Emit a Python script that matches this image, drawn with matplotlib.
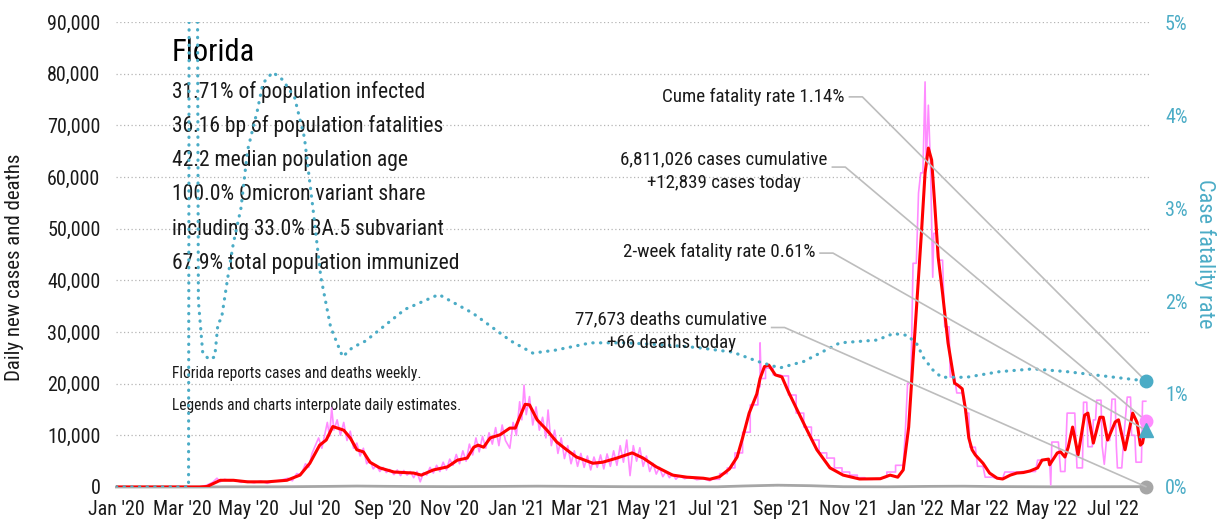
import numpy as np
import pandas as pd
import matplotlib
matplotlib.use("Agg")
import matplotlib.pyplot as plt
from matplotlib.ticker import FuncFormatter

plt.rcParams['font.family'] = ['Roboto Condensed', 'DejaVu Sans']

START = pd.Timestamp("2020-01-01")

# x values are days since 2020-01-01
# 7-day average of new cases (red)
avg_days = [0, 76, 83, 95, 107, 120, 138, 156, 168, 177, 186, 192, 198, 208, 214, 220, 226,
            232, 241, 254, 272, 279, 290, 303, 312, 321, 327, 331, 336, 342, 351, 360, 365,
            369, 374, 378, 385, 394, 403, 412, 421, 436, 445, 458, 472, 482, 494, 509, 522,
            537, 543, 552, 561, 568, 573, 579, 586, 589, 593, 597, 603, 609, 615, 623, 632,
            641, 653, 665, 680, 699, 708, 715, 720, 725, 729, 734, 737, 740, 743, 746, 749,
            752, 756, 761, 767, 770, 774, 777, 780, 783, 786, 793, 799, 806, 811, 818, 824,
            830, 836, 843, 847, 853, 854, 861, 864, 868, 871, 875, 877, 880, 886, 889, 894,
            900, 903, 907, 914, 917, 923, 930, 934, 937, 939, 942]
avg_cases = [0, 0, 100, 1300, 1300, 1000, 1000, 1300, 2300, 4600, 8100, 9100, 11700, 11000,
             9500, 7200, 6800, 4800, 3700, 2900, 2700, 2300, 3300, 3900, 5200, 5600, 7700,
             8100, 7700, 9500, 10100, 11400, 11400, 13500, 16000, 15900, 13000, 11000, 8700,
             7200, 5800, 4600, 4800, 5600, 6600, 5600, 3900, 2300, 1900, 1700, 1500, 2000,
             3500, 5800, 9500, 14300, 18000, 21000, 23300, 23600, 21700, 21300, 18400, 14900,
             11000, 7200, 3700, 2300, 1550, 1600, 2300, 1900, 3300, 11600, 24600, 40600,
             50300, 60800, 65600, 63300, 54200, 44500, 37500, 27900, 20100, 19700, 19000,
             15000, 9500, 7200, 6200, 4600, 2700, 1700, 1550, 2300, 2700, 2800, 3100, 3700,
             5200, 5400, 4300, 6600, 6800, 5800, 7700, 11600, 9500, 6200, 13900, 14300, 8500,
             13500, 13500, 9100, 12600, 13000, 7200, 14300, 12500, 8100, 8500, 12000]

# daily new cases, weekly reports spread over days (pink)
daily_days = [0, 76, 82, 88, 92, 95, 99, 104, 108, 114, 120, 126, 132, 138, 144, 150, 157, 161,
              165, 169, 173, 176, 179, 182, 185, 188, 191, 193, 195, 197, 199, 202, 205, 208,
              211, 214, 217, 220, 223, 226, 229, 232, 235, 238, 241, 244, 247, 250, 254, 257,
              260, 263, 266, 269, 272, 275, 278, 281, 284, 287, 290, 293, 296, 299, 302, 305,
              308, 311, 314, 317, 320, 323, 326, 329, 332, 335, 338, 341, 344, 347, 350, 353,
              356, 360, 363, 366, 369, 371, 373, 375, 378, 381, 384, 387, 390, 393, 395, 398,
              401, 404, 407, 410, 413, 416, 419, 422, 425, 428, 431, 434, 437, 440, 443, 446,
              449, 452, 455, 458, 461, 464, 467, 470, 473, 476, 479, 482, 485, 488, 491, 494,
              497, 500, 503, 506, 509, 512, 515, 520, 525, 531, 537, 543,
              545, 552, 552, 559, 559, 566, 566, 573, 573, 580, 580, 587, 587, 589, 589, 590,
              594, 594, 601, 601, 608, 608, 615, 615, 622, 622, 629, 629, 636, 636, 643, 643,
              650, 650, 657, 657, 664, 664, 671, 671, 678, 678, 685, 685, 692, 692, 699,
              705, 705, 713, 713, 720, 722, 724, 727, 729, 732, 734, 736, 738, 740, 741, 743,
              745, 747, 748, 751, 752, 756, 758, 762, 763, 767, 769, 774, 777, 780, 781, 786,
              788, 793, 795, 802, 804, 811, 813, 827, 829, 841, 843, 854, 855, 856, 862, 864,
              868, 870, 877, 879, 884, 885, 888, 889, 893, 894, 896, 897, 901, 902, 904, 906,
              909, 911, 914, 915, 916, 920, 922, 925, 928, 929, 932, 933, 938, 939, 942]
daily_cases = [0, 0, 300, 900, 1700, 1000, 1500, 1200, 1400, 900, 1100, 800, 1200, 700, 1100,
               1300, 1700, 1200, 2600, 2400, 4500, 3800, 6500, 8000, 9500, 7500, 10500, 12500,
               9800, 15300, 11000, 13000, 10000, 12500, 9000, 10800, 7500, 8500, 6000, 7500,
               4500, 5200, 3500, 4200, 3000, 3800, 2800, 3400, 2400, 3300, 2200, 3200, 2300,
               3000, 1800, 3000, 1000, 2800, 2300, 3800, 2700, 4200, 3000, 4800, 3300, 5400,
               4200, 6300, 4500, 7000, 5000, 8300, 6200, 9500, 6800, 9800, 7500, 10500, 8300,
               11500, 8000, 12000, 9000, 7500, 12500, 10000, 16500, 13000, 19700, 14000, 17500,
               12000, 15500, 11000, 13500, 9500, 14900, 8000, 11000, 6500, 9500, 5500, 8000,
               4500, 7000, 4000, 6500, 3800, 6000, 3300, 5800, 3800, 6200, 3500, 6400, 4000,
               7000, 4200, 8000, 4800, 9100, 2200, 8000, 5000, 7600, 4000, 6000, 3000, 4600,
               2500, 3800, 2000, 3000, 1800, 2500, 1500, 2200, 1600, 2000, 1400, 1600, 1200,
               1500, 1500, 2600, 2600, 3700, 3700, 6600, 6600, 10600, 10600, 15900, 15900,
               19400, 19400, 27900, 21000, 21000, 23000, 23000, 21700, 21700, 21500, 21500,
               17800, 17800, 14300, 14300, 11600, 11600, 9100, 9100, 6600, 6600, 5600, 5600,
               3700, 3700, 2900, 2900, 2300, 2300, 1800, 1800, 1500, 1500, 1600, 1600,
               1900, 2900, 2900, 4200, 4200, 11000, 20100, 20100, 43300, 43300, 56900, 60800,
               60800, 78400, 62000, 73900, 62000, 40600, 49100, 49100, 43900, 43900, 31000,
               31000, 21300, 21300, 18200, 18200, 14300, 14300, 7700, 7700, 4000, 4000, 1900,
               1900, 1700, 1700, 2900, 2900, 3000, 3000, 5200, 5200, 400, 8700, 8700, 3000,
               3000, 14300, 14300, 3700, 3700, 16400, 16400, 7800, 7800, 13000, 13000, 16800,
               16800, 8000, 4400, 9000, 9000, 17000, 17000, 8000, 3700, 3700, 10000, 17400,
               17400, 10000, 10000, 4800, 4800, 16600, 16600]

# daily deaths (gray)
death_days = [0, 77, 100, 150, 195, 220, 245, 275, 305, 345, 385, 425, 465, 505, 550, 575,
              605, 635, 665, 705, 745, 775, 805, 855, 942]
deaths = [0, 0, 40, 40, 120, 180, 130, 90, 70, 100, 160, 110, 60, 50, 40, 200, 350, 250,
          60, 40, 120, 150, 80, 40, 66]

# case fatality rate, % (teal, right axis)
cfr_days = [0, 66, 67, 73, 75, 79, 85, 90, 93, 96, 102, 107, 114, 120, 129, 134, 143, 152,
            163, 172, 180, 187, 196, 207, 216, 228, 264, 295, 326, 361, 381, 401, 434, 466,
            499, 531, 564, 587, 607, 629, 662, 696, 711, 724, 733, 738, 747, 755, 778, 808,
            839, 870, 899, 942]
cfr = [0, 0, 10, 10, 2.0, 1.44, 1.37, 1.40, 1.77, 1.80, 2.26, 2.62, 3.0, 3.62, 4.05, 4.34,
       4.46, 4.38, 4.19, 3.76, 2.98, 2.26, 1.72, 1.40, 1.50, 1.57, 1.91, 2.07, 1.87, 1.57,
       1.44, 1.47, 1.55, 1.55, 1.53, 1.50, 1.45, 1.35, 1.28, 1.35, 1.55, 1.58, 1.65, 1.63,
       1.53, 1.40, 1.26, 1.18, 1.18, 1.24, 1.27, 1.24, 1.20, 1.14]

last_day = 942
cases_cum, cases_today = 6811026, 12839
deaths_cum, deaths_today = 77673, 66
cume_cfr, cfr_2wk = 1.14, 0.61

stats = ["31.71% of population infected",
         "36.16 bp of population fatalities",
         "42.2 median population age",
         "100.0% Omicron variant share",
         "including 33.0% BA.5 subvariant",
         "67.9% total population immunized"]

PINK = "#FF8CFF"
RED = "#FF0000"
TEAL = "#4BACC6"
GRAY = "#A6A6A6"
LEAD = "#BDBDBD"
INK = "#1A1A1A"

fig = plt.figure(figsize=(12.32, 5.29), dpi=100)
ax = fig.add_axes([0.0945, 0.0794, 0.8398, 0.879])
ax2 = ax.twinx()

ax.set_xlim(0, 946.8)
ax.set_ylim(0, 90000)
ax2.set_ylim(0, 5)

ax.set_yticks(range(0, 90001, 10000))
ax.yaxis.set_major_formatter(FuncFormatter(lambda v, p: f"{int(v):,}"))
ax.grid(axis="y", color="#B5B5B5", linestyle=(0, (1, 2)), linewidth=0.9)
ax.set_axisbelow(True)

months = pd.date_range("2020-01-01", "2022-07-01", freq="2MS")
ax.set_xticks([(m - START).days for m in months])
ax.set_xticklabels([m.strftime("%b '%y") for m in months])

ax2.set_yticks(range(0, 6))
ax2.yaxis.set_major_formatter(FuncFormatter(lambda v, p: f"{int(v)}%"))

for a in (ax, ax2):
    for s in a.spines.values():
        s.set_visible(False)
ax.tick_params(axis="y", length=0, labelsize=14.5, pad=11.5, labelcolor=INK)
ax.tick_params(axis="x", length=0, labelsize=14.5, pad=9.5, labelcolor=INK)
ax2.tick_params(axis="y", length=0, labelsize=14.5, pad=10, labelcolor=TEAL)

ax.plot(death_days, deaths, color=GRAY, lw=2.0, zorder=2, clip_on=False)
ax.plot(daily_days, daily_cases, color=PINK, lw=1.2, zorder=3)
ax.plot(avg_days, avg_cases, color=RED, lw=2.2, zorder=4)

ax2.plot(cfr_days, cfr, color=TEAL, lw=2.3, linestyle=(0, (0.1, 2.3)),
         dash_capstyle="round", zorder=5)

fig.text(15 / 1232, 1 - 267 / 529, "Daily new cases and deaths", rotation=90,
         ha="center", va="center", fontsize=15, color=INK)
fig.text(1205 / 1232, 1 - 254 / 529, "Case fatality rate", rotation=270,
         ha="center", va="center", fontsize=16, color=TEAL)

# state summary block
ax.text(0.0537, 0.935, "Florida", transform=ax.transAxes, fontsize=22,
        va="center", ha="left", color="black", zorder=1)
for i, line in enumerate(stats):
    ax.text(0.0537, 0.8495 - i * 0.0738, line, transform=ax.transAxes, fontsize=15.5,
            va="center", ha="left", color=INK, zorder=1)
ax.text(0.0537, 0.245, "Florida reports cases and deaths weekly.", transform=ax.transAxes,
        fontsize=11.2, va="center", ha="left", color=INK, zorder=1)
ax.text(0.0537, 0.176, "Legends and charts interpolate daily estimates.",
        transform=ax.transAxes, fontsize=11.2, va="center", ha="left", color=INK, zorder=1)


def to_axes(a, x, y):
    return ax.transAxes.inverted().transform(a.transData.transform((x, y)))


# end markers and leader lines
notes = [
    (f"Cume fatality rate {cume_cfr:.2f}%", 0.704, 0.839, 0.839, to_axes(ax2, last_day, cume_cfr)),
    (f"{cases_cum:,} cases cumulative\n+{cases_today:,} cases today", 0.6875, 0.6796, 0.688,
     to_axes(ax, last_day, cases_today)),
    (f"2-week fatality rate {cfr_2wk:.2f}%", 0.6756, 0.505, 0.503, to_axes(ax2, last_day, cfr_2wk)),
    (f"{deaths_cum:,} deaths cumulative\n+{deaths_today} deaths today", 0.6288, 0.336, 0.343,
     to_axes(ax, last_day, deaths_today)),
]
for text, fx, fy, ly, (mx, my) in notes:
    ax2.text(fx, fy, text, transform=ax2.transAxes, ha="right", va="center",
             multialignment="center", fontsize=13.7, color=INK, zorder=6,
             linespacing=1.4)
    ax2.plot([fx + 0.0045, fx + 0.017, mx], [ly, ly, my], transform=ax2.transAxes,
             color=LEAD, lw=1.2, zorder=7, clip_on=False)

ax.plot([last_day], [deaths_today], "o", color=GRAY, ms=9, zorder=8, clip_on=False)
ax2.plot([last_day], [cases_today / 90000 * 5], "o", color=PINK, ms=9, zorder=8, clip_on=False)
ax2.plot([last_day], [cfr_2wk], "^", color=TEAL, ms=10, zorder=9, clip_on=False)
ax2.plot([last_day], [cume_cfr], "o", color=TEAL, ms=9, zorder=9, clip_on=False)

fig.savefig("out.png", dpi=100)
